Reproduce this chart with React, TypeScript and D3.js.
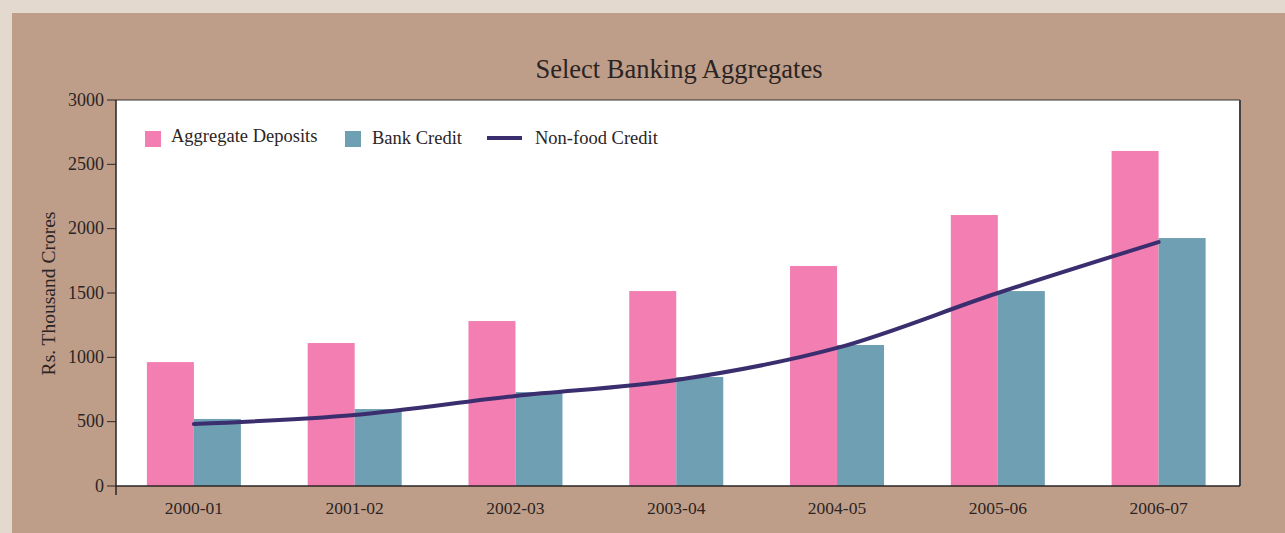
import React from "react";
import * as d3 from "d3";

const categories = ["2000-01", "2001-02", "2002-03", "2003-04", "2004-05", "2005-06", "2006-07"];
const aggregateDeposits = [963, 1111, 1282, 1515, 1710, 2106, 2604];
const bankCredit = [521, 598, 730, 847, 1096, 1515, 1927];
const nonFoodCredit = [482, 552, 700, 824, 1073, 1500, 1896];
const yTicks = [0, 500, 1000, 1500, 2000, 2500, 3000];

const W = 1285, H = 533;
const left = 116, right = 1240, top = 100, bottom = 486;
const FONT = "'Liberation Serif', serif";
const TXT = "#2b2424";

export default function App() {
  const x = d3.scaleBand<string>().domain(categories).range([113.5, 1239]).padding(0);
  const y = d3.scaleLinear().domain([0, 3000]).range([bottom, top]);
  const bw = 47;
  const cx = (c: string) => (x(c) as number) + x.bandwidth() / 2;
  const line = d3
    .line<number>()
    .x((_, i) => cx(categories[i]))
    .y((d) => y(d))
    .curve(d3.curveMonotoneX);

  return (
    <svg width={W} height={H} style={{ position: "absolute", left: 0, top: 0 }} fontFamily={FONT}>
      <rect x={0} y={0} width={W} height={H} fill="#e4d9cf" />
      <rect x={12} y={13} width={W - 12} height={H - 13} fill="#bf9e89" />
      <rect x={left} y={top} width={right - left} height={bottom - top} fill="#ffffff" />
      <text x={679} y={78} textAnchor="middle" fontSize={26.5} fill={TXT}>
        Select Banking Aggregates
      </text>
      {categories.map((c, i) => (
        <g key={c}>
          <rect x={cx(c) - bw} y={y(aggregateDeposits[i])} width={bw} height={bottom - y(aggregateDeposits[i])} fill="#f27eb2" />
          <rect x={cx(c)} y={y(bankCredit[i])} width={bw} height={bottom - y(bankCredit[i])} fill="#6e9fb2" />
          <text x={cx(c)} y={514} textAnchor="middle" fontSize={17.5} fill={TXT}>
            {c}
          </text>
        </g>
      ))}
      <path d={line(nonFoodCredit) || ""} fill="none" stroke="#3a2e6e" strokeWidth={4} strokeLinecap="round" />
      {/* frame */}
      <line x1={left} x2={right} y1={top} y2={top} stroke="#333" strokeWidth={1} />
      <line x1={right} x2={right} y1={top} y2={bottom} stroke="#444" strokeWidth={2} />
      <line x1={left} x2={right} y1={bottom} y2={bottom} stroke={TXT} strokeWidth={1.5} />
      <line x1={left} x2={left} y1={top} y2={bottom + 9} stroke={TXT} strokeWidth={1.5} />
      {yTicks.map((t) => (
        <g key={t}>
          <line x1={left - 9} x2={left} y1={y(t)} y2={y(t)} stroke={TXT} strokeWidth={1} />
          <text x={left - 12} y={y(t) + 5.5} textAnchor="end" fontSize={18} fill={TXT}>
            {t}
          </text>
        </g>
      ))}
      <text transform="translate(55,293.5) rotate(-90)" textAnchor="middle" fontSize={19.5} fill={TXT}>
        Rs. Thousand Crores
      </text>
      {/* legend */}
      <rect x={145} y={131} width={16} height={16} fill="#f27eb2" />
      <text x={171} y={142} fontSize={18.5} fill={TXT}>Aggregate Deposits</text>
      <rect x={345} y={131} width={16} height={16} fill="#6e9fb2" />
      <text x={372} y={144} fontSize={18.5} fill={TXT}>Bank Credit</text>
      <line x1={487} x2={522} y1={138} y2={138} stroke="#3a2e6e" strokeWidth={4} />
      <text x={535} y={144} fontSize={18.5} fill={TXT}>Non-food Credit</text>
    </svg>
  );
}
